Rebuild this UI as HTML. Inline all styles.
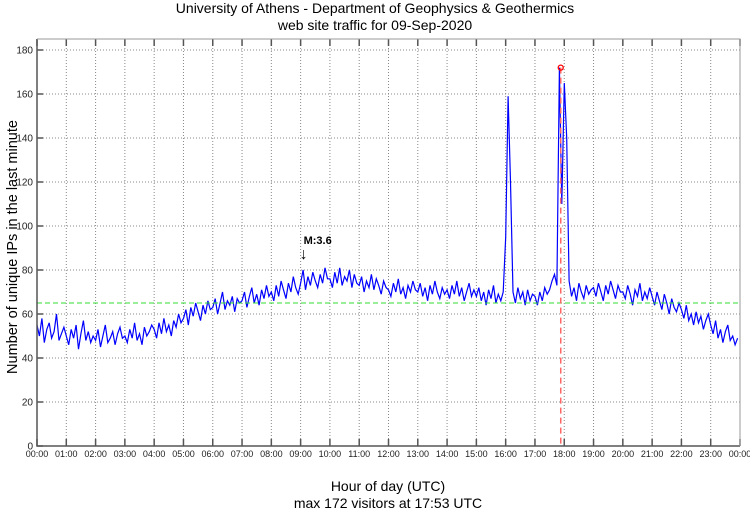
<!DOCTYPE html>
<html><head><meta charset="utf-8"><style>
body{margin:0;background:#fff;}
svg{display:block;font-family:"Liberation Sans",sans-serif;}
</style></head><body>
<svg id="chart" width="750" height="511">
<text x="375" y="13" font-size="14" text-anchor="middle">University of Athens - Department of Geophysics &amp; Geothermics</text>
<text x="375" y="30" font-size="14" text-anchor="middle">web site traffic for 09-Sep-2020</text>
<text transform="translate(17,247) rotate(-90)" font-size="14.5" text-anchor="middle">Number of unique IPs in the last minute</text>
<text x="388" y="491" font-size="14" text-anchor="middle">Hour of day (UTC)</text>
<text x="388" y="508" font-size="14" text-anchor="middle">max 172 visitors at 17:53 UTC</text>
<g id="grid"></g><g id="series"></g><g id="overlay"></g><g id="axes"></g>
</svg>
<script>
const yTicks=[0,20,40,60,80,100,120,140,160,180];
const xHours=[0,1,2,3,4,5,6,7,8,9,10,11,12,13,14,15,16,17,18,19,20,21,22,23,24];
const xLabels=["00:00","01:00","02:00","03:00","04:00","05:00","06:00","07:00","08:00","09:00","10:00","11:00","12:00","13:00","14:00","15:00","16:00","17:00","18:00","19:00","20:00","21:00","22:00","23:00","00:00"];
const visitors=[
55,50,58,47,53,56,49,52,60,48,51,54,
50,46,53,49,55,44,51,57,48,52,47,50,
48,53,45,50,55,47,49,52,46,51,54,49,
50,47,53,49,56,48,51,46,54,50,52,55,
53,49,56,51,58,52,55,50,57,54,60,56,
58,62,55,63,59,65,61,57,64,60,66,62,
63,67,60,65,70,62,66,64,68,61,67,65,
66,70,63,68,72,65,69,64,71,67,73,68,
70,66,73,68,75,71,67,74,70,77,72,69,
74,80,71,77,73,79,75,72,78,74,81,76,
76,72,79,74,81,73,77,75,80,72,78,74,
73,77,70,75,72,78,71,76,73,69,75,72,
71,68,74,70,76,69,72,67,73,70,75,71,
70,74,68,72,66,73,69,75,70,67,72,69,
71,67,73,69,75,68,72,66,70,74,68,71,
68,72,66,70,64,71,67,73,65,69,66,70,
95,159,120,70,65,72,67,70,64,71,66,69,
68,64,70,66,72,69,71,75,78,73,172,110,
165,140,75,68,72,66,74,70,67,73,69,71,
72,68,74,70,66,73,69,75,71,67,73,70,
70,67,73,69,64,71,68,74,66,70,67,72,
68,64,70,66,62,69,65,60,67,63,61,65,
62,58,64,57,60,55,61,56,59,53,57,60,
55,51,57,49,53,47,52,55,48,50,46,49];
const stepMinutes=5;
const meanLevel=[65];
const eventHour=[9.17];
const eventLabel=["M:3.6"];
const maxHour=[17.88];

const L=37,R=740,T=39,B=446;
const xs=h=>L+(R-L)*h/24;
const ys=v=>B-(B-50)*v/180;
const NS="http://www.w3.org/2000/svg";
function mk(p,tag,a){const e=document.createElementNS(NS,tag);for(const k in a)e.setAttribute(k,a[k]);p.appendChild(e);return e;}
const grid=document.getElementById('grid'),axes=document.getElementById('axes'),ser=document.getElementById('series'),ov=document.getElementById('overlay');
yTicks.forEach(v=>{
 const y=ys(v);
 if(v>0){const g=mk(grid,'line',{x1:L,x2:R,y1:y,y2:y,stroke:'#888','stroke-width':1,'stroke-dasharray':'1,2'});
 
 }
 const t=mk(axes,'line',{x1:L,x2:L+6,y1:y,y2:y,stroke:'#555','stroke-width':1.5});
 
 
 const lb=mk(axes,'text',{x:L-4,y:y+3.5,'font-size':10,'text-anchor':'end',fill:'#222'});lb.textContent=v;
 
 
});
xHours.forEach((h,i)=>{
 const x=xs(h);
 if(h>0&&h<24){const g=mk(grid,'line',{x1:x,x2:x,y1:T,y2:B,stroke:'#888','stroke-width':1,'stroke-dasharray':'1,2'});
 
 }
 const t=mk(axes,'line',{x1:x,x2:x,y1:B,y2:B-7,stroke:'#555','stroke-width':1.5});
 
 
 const t2=mk(axes,'line',{x1:x,x2:x,y1:T,y2:T+7,stroke:'#555','stroke-width':1.5});
 
 
 const lb=mk(axes,'text',{x:x,y:B+11,'font-size':9,'text-anchor':'middle',fill:'#222'});lb.textContent=xLabels[i];
 
 
});
const fr=mk(axes,'path',{d:`M${L},${T}V${B}H${R}`,fill:'none',stroke:'#555','stroke-width':1.5});


const fr2=mk(axes,'path',{d:`M${L},${T}H${R}V${B}`,fill:'none',stroke:'#999','stroke-width':1});


const ml=mk(ov,'line',{x1:L,x2:R,y1:ys(meanLevel[0]),y2:ys(meanLevel[0]),stroke:'#33dd33','stroke-width':1,'stroke-dasharray':'5,3'});


let d='';visitors.forEach((v,i)=>{d+=(i?'L':'M')+xs(i*stepMinutes/60).toFixed(1)+','+ys(v).toFixed(1);});
const p=mk(ser,'path',{d:d,fill:'none',stroke:'#0000ff','stroke-width':1.2});


let mx=0;visitors.forEach((v,i)=>{if(v>visitors[mx])mx=i;});
const mxX=xs(maxHour[0]),mxY=ys(visitors[mx]);
const vl=mk(ov,'line',{x1:mxX,x2:mxX,y1:mxY,y2:B,stroke:'#ff6666','stroke-width':1.5,'stroke-dasharray':'6,4'});


const c=mk(ov,'circle',{cx:mxX,cy:mxY,r:2.5,fill:'none',stroke:'#ff0000','stroke-width':1.3});


const ex=xs(eventHour[0]);
const et=mk(ov,'text',{x:ex-2,y:244,'font-size':11,'font-weight':'bold',fill:'#000'});et.textContent=eventLabel[0];


const ea=mk(ov,'text',{x:ex-6,y:259,'font-size':16,fill:'#000'});ea.textContent='↓';


</script>
</body></html>
